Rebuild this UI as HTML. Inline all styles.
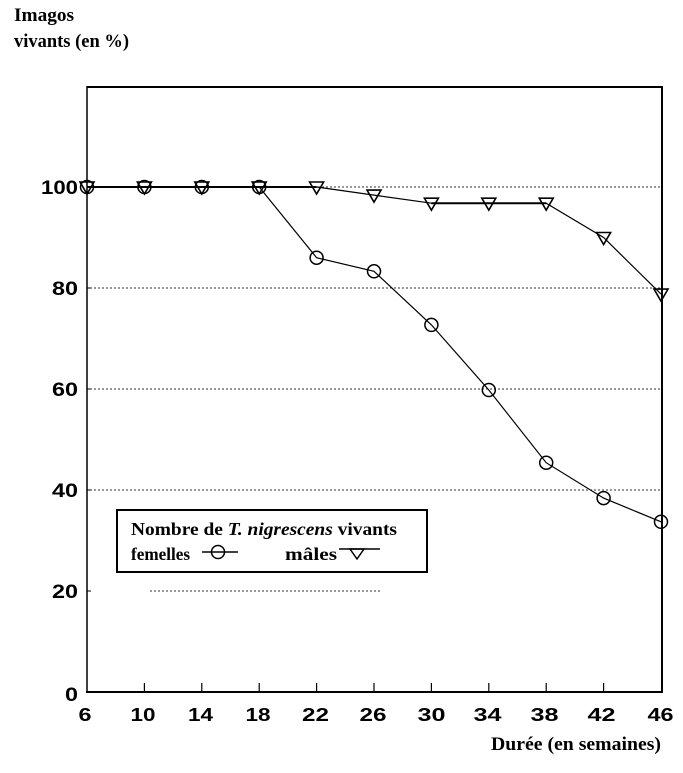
<!DOCTYPE html>
<html><head><meta charset="utf-8"><style>
html,body{margin:0;padding:0;background:#fff;}
svg{display:block;}
.ax{font-family:"Liberation Sans",Arial,sans-serif;font-weight:bold;fill:#000;}
.sf{font-family:"Liberation Serif","Times New Roman",serif;font-weight:bold;fill:#000;}
</style></head><body>
<svg width="683" height="773" viewBox="0 0 683 773" xmlns="http://www.w3.org/2000/svg">
<rect width="683" height="773" fill="#fff"/>
<!-- titles -->
<text class="sf" x="14" y="21" font-size="18.5" textLength="60" lengthAdjust="spacingAndGlyphs">Imagos</text>
<text class="sf" x="14" y="47" font-size="18.5" textLength="115" lengthAdjust="spacingAndGlyphs">vivants (en %)</text>
<text class="sf" x="491" y="750" font-size="19" textLength="170" lengthAdjust="spacingAndGlyphs">Durée (en semaines)</text>

<!-- gridlines -->
<g stroke="#333" stroke-width="1" stroke-dasharray="2,2">
<line x1="318" y1="187" x2="660" y2="187"/>
<line x1="90" y1="288" x2="660" y2="288"/>
<line x1="90" y1="389" x2="660" y2="389"/>
<line x1="90" y1="490" x2="660" y2="490"/>
<line x1="150" y1="591" x2="380" y2="591"/>
</g>

<!-- axes frame -->
<line x1="87" y1="87" x2="662" y2="87" stroke="#000" stroke-width="2"/>
<line x1="662" y1="86" x2="662" y2="693" stroke="#000" stroke-width="2"/>
<line x1="87" y1="86" x2="87" y2="693" stroke="#000" stroke-width="1.5"/>
<line x1="86" y1="692" x2="663" y2="692" stroke="#000" stroke-width="2"/>

<!-- x ticks -->
<g stroke="#000" stroke-width="1.2">
<line x1="144.4" y1="683" x2="144.4" y2="692"/>
<line x1="201.8" y1="683" x2="201.8" y2="692"/>
<line x1="259.2" y1="683" x2="259.2" y2="692"/>
<line x1="316.6" y1="683" x2="316.6" y2="692"/>
<line x1="374" y1="683" x2="374" y2="692"/>
<line x1="431.4" y1="683" x2="431.4" y2="692"/>
<line x1="488.8" y1="683" x2="488.8" y2="692"/>
<line x1="546.2" y1="683" x2="546.2" y2="692"/>
<line x1="603.6" y1="683" x2="603.6" y2="692"/>
</g>
<!-- y ticks -->
<g stroke="#000" stroke-width="1">
<line x1="87" y1="591" x2="91" y2="591"/>
<line x1="87" y1="490" x2="91" y2="490"/>
<line x1="87" y1="389" x2="91" y2="389"/>
<line x1="87" y1="288" x2="91" y2="288"/>
</g>

<!-- y labels -->
<g class="ax" font-size="19.5" text-anchor="end">
<text x="78" y="194" textLength="37" lengthAdjust="spacingAndGlyphs">100</text>
<text x="78" y="295" textLength="26" lengthAdjust="spacingAndGlyphs">80</text>
<text x="78" y="396" textLength="26" lengthAdjust="spacingAndGlyphs">60</text>
<text x="78" y="497" textLength="26" lengthAdjust="spacingAndGlyphs">40</text>
<text x="78" y="598" textLength="26" lengthAdjust="spacingAndGlyphs">20</text>
<text x="78" y="701" textLength="13" lengthAdjust="spacingAndGlyphs">0</text>
</g>
<!-- x labels -->
<g class="ax" font-size="18" text-anchor="middle">
<text x="85" y="721" textLength="13" lengthAdjust="spacingAndGlyphs">6</text>
<text x="143" y="721" textLength="25" lengthAdjust="spacingAndGlyphs">10</text>
<text x="200.5" y="721" textLength="25" lengthAdjust="spacingAndGlyphs">14</text>
<text x="258" y="721" textLength="25" lengthAdjust="spacingAndGlyphs">18</text>
<text x="315.5" y="721" textLength="27" lengthAdjust="spacingAndGlyphs">22</text>
<text x="373" y="721" textLength="27" lengthAdjust="spacingAndGlyphs">26</text>
<text x="431.5" y="721" textLength="28" lengthAdjust="spacingAndGlyphs">30</text>
<text x="487.5" y="721" textLength="28" lengthAdjust="spacingAndGlyphs">34</text>
<text x="544.5" y="721" textLength="28" lengthAdjust="spacingAndGlyphs">38</text>
<text x="601.5" y="721" textLength="28" lengthAdjust="spacingAndGlyphs">42</text>
<text x="660.5" y="721" textLength="26" lengthAdjust="spacingAndGlyphs">46</text>
</g>

<!-- series lines -->
<line x1="87" y1="187" x2="316.6" y2="187" stroke="#000" stroke-width="2"/>
<polyline fill="none" stroke="#000" stroke-width="1.2" points="259.2,187 316.6,257.7 374,271.3 431.4,324.9 488.8,390 546.2,462.7 603.6,498.1 661,521.8"/>
<polyline fill="none" stroke="#000" stroke-width="1.2" points="316.6,187 374,195.1 431.4,203.2 488.8,203.2 546.2,203.2 603.6,237.5 661,294.1"/>
<line x1="431.4" y1="203.2" x2="546.2" y2="203.2" stroke="#000" stroke-width="2"/>

<!-- circles -->
<g fill="none" stroke="#000" stroke-width="1.5">
<circle cx="87" cy="187" r="6.5"/>
<circle cx="144.4" cy="187" r="6.5"/>
<circle cx="201.8" cy="187" r="6.5"/>
<circle cx="259.2" cy="187" r="6.5"/>
<circle cx="316.6" cy="257.7" r="6.5"/>
<circle cx="374" cy="271.3" r="6.5"/>
<circle cx="431.4" cy="324.9" r="6.5"/>
<circle cx="488.8" cy="390" r="6.5"/>
<circle cx="546.2" cy="462.7" r="6.5"/>
<circle cx="603.6" cy="498.1" r="6.5"/>
<circle cx="661" cy="521.8" r="6.5"/>
</g>
<!-- triangles -->
<g fill="none" stroke="#000" stroke-width="1.6">
<path d="M80,182 L94,182 L87,194 Z"/>
<path d="M137.4,182 L151.4,182 L144.4,194 Z"/>
<path d="M194.8,182 L208.8,182 L201.8,194 Z"/>
<path d="M252.2,182 L266.2,182 L259.2,194 Z"/>
<path d="M309.6,182 L323.6,182 L316.6,194 Z"/>
<path d="M367,190.1 L381,190.1 L374,202.1 Z"/>
<path d="M424.4,198.2 L438.4,198.2 L431.4,210.2 Z"/>
<path d="M481.8,198.2 L495.8,198.2 L488.8,210.2 Z"/>
<path d="M539.2,198.2 L553.2,198.2 L546.2,210.2 Z"/>
<path d="M596.6,232.5 L610.6,232.5 L603.6,244.5 Z"/>
<path d="M654,289.1 L668,289.1 L661,301.1 Z"/>
</g>

<!-- legend -->
<rect x="117" y="510" width="310" height="62" fill="#fff" stroke="#000" stroke-width="2"/>
<text class="sf" x="131" y="535" font-size="18" textLength="266" lengthAdjust="spacingAndGlyphs">Nombre de <tspan font-style="italic">T. nigrescens</tspan> vivants</text>
<text class="sf" x="131" y="560" font-size="18" textLength="59" lengthAdjust="spacingAndGlyphs">femelles</text>
<line x1="202" y1="552" x2="238" y2="552" stroke="#000" stroke-width="1.5"/>
<circle cx="218" cy="552" r="6.5" fill="none" stroke="#000" stroke-width="1.5"/>
<text class="sf" x="285" y="560" font-size="18" textLength="52" lengthAdjust="spacingAndGlyphs">mâles</text>
<line x1="339" y1="549" x2="380" y2="549" stroke="#000" stroke-width="1.5"/>
<path d="M350,549 L364,549 L357,559 Z" fill="none" stroke="#000" stroke-width="1.5"/>
</svg>
</body></html>
